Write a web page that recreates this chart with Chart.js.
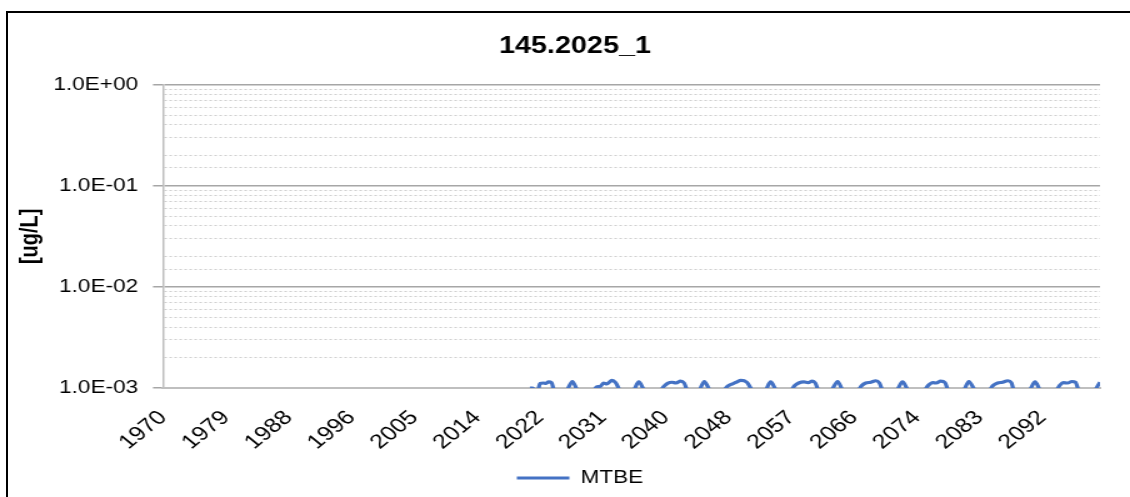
<!DOCTYPE html>
<html>
<head>
<meta charset="utf-8">
<script src="https://cdn.jsdelivr.net/npm/chart.js@4/dist/chart.umd.min.js"></script>
<style>
  html, body { margin: 0; padding: 0; background: #fff; overflow: hidden; }
  #frame { position: absolute; left: 6px; top: 11px; width: 1300px; height: 700px;
           border-left: 2px solid #000; border-top: 2px solid #000; }
  /* the reference picture is stretched sideways, so the canvas is too */
  #chart { position: absolute; left: 0; top: 0; transform: scaleX(1.25); transform-origin: 0 0; }
</style>
</head>
<body>
<div id="frame"></div>
<canvas id="chart" width="904" height="497"></canvas>
<script>
  // x tick labels (Excel date axis, evenly spaced)
  const tickLabels = ["1970", "1979", "1988", "1996", "2005", "2014", "2022", "2031",
                      "2040", "2048", "2057", "2066", "2074", "2083", "2092"];

  // MTBE concentration [ug/L] (below 1E-03 = off the axis)
  const years = [
    2020.9, 2021.3, 2021.6, 2022.1, 2022.3, 2022.8, 2023.1, 2023.5, 2023.9, 2024.3,
    2025.9, 2026.8, 2027.6,
    2029.7, 2030.2, 2030.7, 2031.1, 2031.6, 2032.3, 2032.8, 2033.5,
    2035.2, 2036.0, 2036.9,
    2039.0, 2039.5, 2040.0, 2040.6, 2041.2, 2041.8, 2042.3, 2042.8,
    2044.3, 2045.1, 2046.0,
    2047.8, 2048.3, 2048.9, 2049.5, 2050.2, 2051.0, 2051.9,
    2053.5, 2054.3, 2055.2,
    2057.1, 2057.6, 2058.2, 2058.9, 2059.5, 2060.1, 2060.5, 2061.0,
    2062.6, 2063.6, 2064.4,
    2066.4, 2066.9, 2067.5, 2068.2, 2068.9, 2069.4, 2069.9,
    2071.7, 2072.6, 2073.5,
    2075.6, 2076.1, 2076.8, 2077.3, 2077.9, 2078.5, 2079.0,
    2081.0, 2081.8, 2082.8,
    2084.6, 2085.1, 2085.8, 2086.5, 2087.2, 2087.7, 2088.1,
    2090.1, 2091.0, 2091.8,
    2093.9, 2094.4, 2094.9, 2095.5, 2096.1, 2096.6, 2097.1,
    2099.1, 2100.0
  ];
  const mtbe = [
    0.00100, 0.00100, 0.00094, 0.00099, 0.00111, 0.00112, 0.00111, 0.00115, 0.00113, 0.00094,
    0.00094, 0.00116, 0.00094,
    0.00095, 0.00103, 0.00104, 0.00112, 0.00110, 0.00119, 0.00113, 0.00094,
    0.00094, 0.00115, 0.00094,
    0.00095, 0.00104, 0.00111, 0.00114, 0.00112, 0.00117, 0.00112, 0.00094,
    0.00094, 0.00116, 0.00094,
    0.00095, 0.00104, 0.00109, 0.00114, 0.00119, 0.00114, 0.00094,
    0.00094, 0.00115, 0.00094,
    0.00095, 0.00105, 0.00112, 0.00115, 0.00113, 0.00117, 0.00112, 0.00094,
    0.00094, 0.00116, 0.00094,
    0.00095, 0.00105, 0.00112, 0.00114, 0.00118, 0.00112, 0.00094,
    0.00094, 0.00115, 0.00094,
    0.00095, 0.00105, 0.00113, 0.00112, 0.00117, 0.00113, 0.00094,
    0.00094, 0.00116, 0.00094,
    0.00095, 0.00105, 0.00112, 0.00114, 0.00118, 0.00113, 0.00094,
    0.00094, 0.00115, 0.00094,
    0.00095, 0.00106, 0.00113, 0.00112, 0.00116, 0.00114, 0.00094,
    0.00094, 0.00114
  ];

  const FONT = "'Liberation Sans', Arial, sans-serif";
  const BLUE = "#4472C4";

  function isDecade(v) {
    const e = Math.log10(v);
    return Math.abs(e - Math.round(e)) < 1e-6;
  }
  function sci(v) {
    const e = Math.round(Math.log10(v));
    return "1.0E" + (e < 0 ? "-" : "+") + String(Math.abs(e)).padStart(2, "0");
  }

  // nudge title and legend to where Excel put them
  const shiftBoxes = {
    id: "shiftBoxes",
    afterLayout(chart) {
      chart.titleBlock.left += 16;
      chart.titleBlock.right += 16;
      chart.legend.left += 20;
      chart.legend.right += 20;
    }
  };

  const ctx = document.getElementById("chart").getContext("2d");
  new Chart(ctx, {
    type: "line",
    data: {
      datasets: [{
        label: "MTBE",
        data: years.map((x, i) => ({ x: x, y: mtbe[i] })),
        borderColor: BLUE,
        backgroundColor: BLUE,
        borderWidth: 3.2,
        pointRadius: 0,
        cubicInterpolationMode: "monotone",
        clip: 0
      }]
    },
    plugins: [shiftBoxes],
    options: {
      responsive: false,
      animation: false,
      layout: { padding: { left: 8, right: 24, top: 0, bottom: 0 } },
      plugins: {
        title: {
          display: true,
          text: "145.2025_1",
          color: "#000",
          font: { family: FONT, size: 23, weight: "bold" },
          padding: { top: 33, bottom: 24 }
        },
        legend: {
          position: "bottom",
          labels: {
            usePointStyle: true,
            pointStyle: "line",
            pointStyleWidth: 42,
            padding: 8,
            color: "#000",
            font: { family: FONT, size: 18 }
          }
        },
        tooltip: { enabled: false }
      },
      scales: {
        x: {
          type: "linear",
          min: 1970,
          max: 2100,
          grid: { display: false, drawTicks: false },
          border: { color: "#bfbfbf", width: 2 },
          afterBuildTicks: (scale) => {
            const step = (2092 - 1970) / (tickLabels.length - 1);
            scale.ticks = tickLabels.map((t, i) => ({ value: 1970 + i * step }));
          },
          afterFit: (scale) => { scale.height = 73; },
          ticks: {
            autoSkip: false,
            minRotation: 45,
            maxRotation: 45,
            padding: 18,
            color: "#000",
            font: { family: FONT, size: 20 },
            callback: (v, i) => tickLabels[i]
          }
        },
        y: {
          type: "logarithmic",
          min: 0.001,
          max: 1,
          afterFit: (scale) => { scale.width = 122.4; },
          title: {
            display: true,
            text: "[ug/L]",
            color: "#000",
            font: { family: FONT, size: 20, weight: "bold" },
            padding: { top: 4, bottom: 0 }
          },
          grid: {
            color: (c) => (c.tick && isDecade(c.tick.value)) ? "#a6a6a6" : "#cfcfcf",
            lineWidth: (c) => (c.tick && isDecade(c.tick.value)) ? 1.5 : 1,
            tickColor: (c) => (c.tick && isDecade(c.tick.value)) ? "#a6a6a6" : "rgba(0,0,0,0)",
            tickLength: 8
          },
          border: {
            color: "#bfbfbf",
            width: 1.5,
            dash: (c) => (c.tick && !isDecade(c.tick.value)) ? [2, 2] : []
          },
          ticks: {
            autoSkip: false,
            padding: 12,
            color: "#000",
            font: { family: FONT, size: 18 },
            callback: (v) => isDecade(v) ? sci(v) : ""
          }
        }
      }
    }
  });
</script>
</body>
</html>
